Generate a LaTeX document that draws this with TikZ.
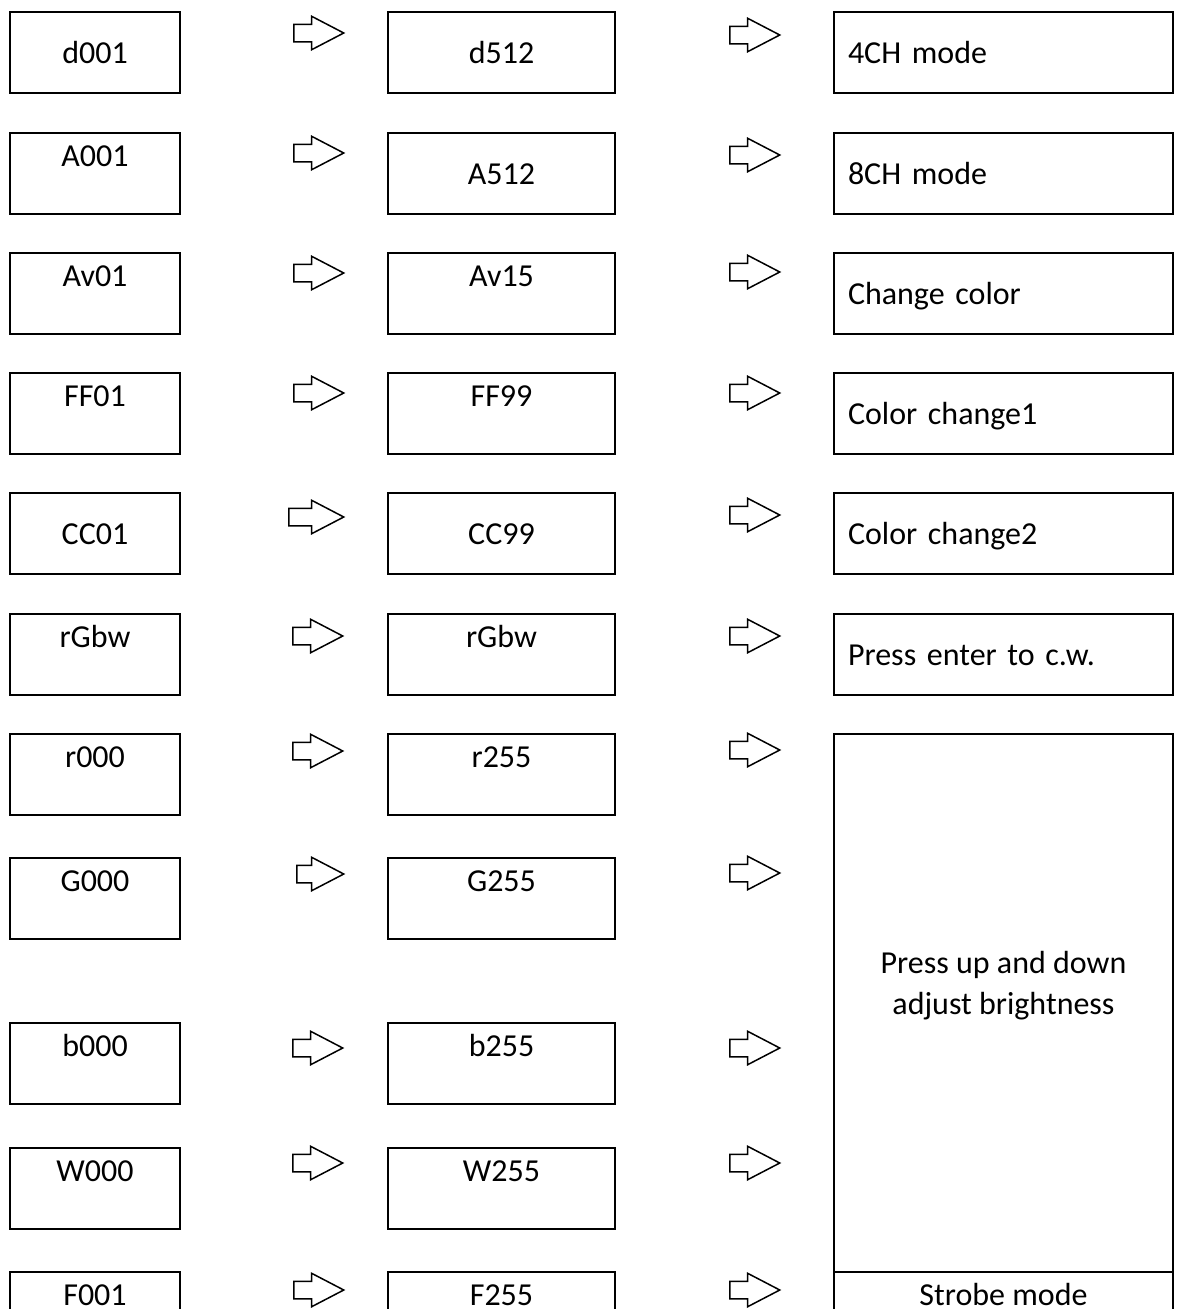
\documentclass[tikz,border=0pt]{standalone}
\usepackage{fontspec}
\setmainfont{Carlito}
\usetikzlibrary{shapes.arrows}
\tikzset{
  cell/.style={draw, line width=2.4pt, minimum height=81pt, inner sep=0pt},
  narrow/.style={cell, minimum width=170pt},
  medium/.style={cell, minimum width=227pt},
  wide/.style={cell, text width=311pt, inner xsep=14pt, align=left},
  mid/.style={text height=51pt, text depth=30pt},
  hi/.style={text height=33pt, text depth=48pt},
  goes/.style={single arrow, draw, line width=1.5pt, minimum height=50pt, text height=16pt, text depth=0pt,
    single arrow head extend=8pt, single arrow tip angle=55, inner sep=0pt, anchor=tail}
}
\begin{document}
\begin{tikzpicture}[x=1pt, y=-1pt, font=\fontsize{32}{41}\selectfont]
  \useasboundingbox (0,0) rectangle (1178,1309);
  \clip (0,0) rectangle (1178,1309);
  % first column
  \node[narrow, mid] (d001) at (95,52.5) {d001};
  \node[narrow, hi]  (a001) at (95,173.5) {A001};
  \node[narrow, hi]  (av01) at (95,293.5) {Av01};
  \node[narrow, hi]  (ff01) at (95,413.5) {FF01};
  \node[narrow, mid] (cc01) at (95,533.5) {CC01};
  \node[narrow, hi]  (rgbw1) at (95,654.5) {rGbw};
  \node[narrow, hi]  (r000) at (95,774.5) {r000};
  \node[narrow, hi]  (g000) at (95,898.5) {G000};
  \node[narrow, hi]  (b000) at (95,1063.5) {b000};
  \node[narrow, hi]  (w000) at (95,1188.5) {W000};
  \node[narrow, hi]  (f001) at (95,1312.5) {F001};
  % second column
  \node[medium, mid] (d512) at (501.5,52.5) {d512};
  \node[medium, mid] (a512) at (501.5,173.5) {A512};
  \node[medium, hi]  (av15) at (501.5,293.5) {Av15};
  \node[medium, hi]  (ff99) at (501.5,413.5) {FF99};
  \node[medium, mid] (cc99) at (501.5,533.5) {CC99};
  \node[medium, hi]  (rgbw2) at (501.5,654.5) {rGbw};
  \node[medium, hi]  (r255) at (501.5,774.5) {r255};
  \node[medium, hi]  (g255) at (501.5,898.5) {G255};
  \node[medium, hi]  (b255) at (501.5,1063.5) {b255};
  \node[medium, hi]  (w255) at (501.5,1188.5) {W255};
  \node[medium, hi]  (f255) at (501.5,1312.5) {F255};
  % third column
  \node[wide, mid] (ch4) at (1003.5,52.5) {4CH mode};
  \node[wide, mid] (ch8) at (1003.5,173.5) {8CH mode};
  \node[wide, mid] (chg) at (1003.5,293.5) {Change color};
  \node[wide, mid] (cc1) at (1003.5,413.5) {Color change1};
  \node[wide, mid] (cc2) at (1003.5,533.5) {Color change2};
  \node[wide, mid] (cw) at (1003.5,654.5) {Press enter to c.w.};
  \node[cell, minimum width=339pt, minimum height=538pt] (bright) at (1003.5,1003) {};
  \node[align=center] (brighttext) at (1003.5,986) {Press up and down\\adjust brightness};
  \node[cell, minimum width=339pt, hi] (strobe) at (1003.5,1312.5) {Strobe mode};
  % arrows
  \node[goes] (a1) at (293,33) {};
  \node[goes] (a2) at (293,153) {};
  \node[goes] (a3) at (293,273) {};
  \node[goes] (a4) at (293,393) {};
  \node[goes, minimum height=55pt] (a5) at (288,517) {};
  \node[goes] (a6) at (292,636) {};
  \node[goes] (a7) at (292,751) {};
  \node[goes, minimum height=47pt] (a8) at (296,874) {};
  \node[goes] (a9) at (292,1048) {};
  \node[goes] (a10) at (292,1163) {};
  \node[goes] (a11) at (293,1290) {};
  \node[goes] (b1) at (729,35) {};
  \node[goes] (b2) at (729,155) {};
  \node[goes] (b3) at (729,272) {};
  \node[goes] (b4) at (729,393) {};
  \node[goes] (b5) at (729,515) {};
  \node[goes] (b6) at (729,636) {};
  \node[goes] (b7) at (729,750) {};
  \node[goes] (b8) at (729,873) {};
  \node[goes] (b9) at (729,1048) {};
  \node[goes] (b10) at (729,1163) {};
  \node[goes] (b11) at (729,1290) {};
\end{tikzpicture}
\end{document}
